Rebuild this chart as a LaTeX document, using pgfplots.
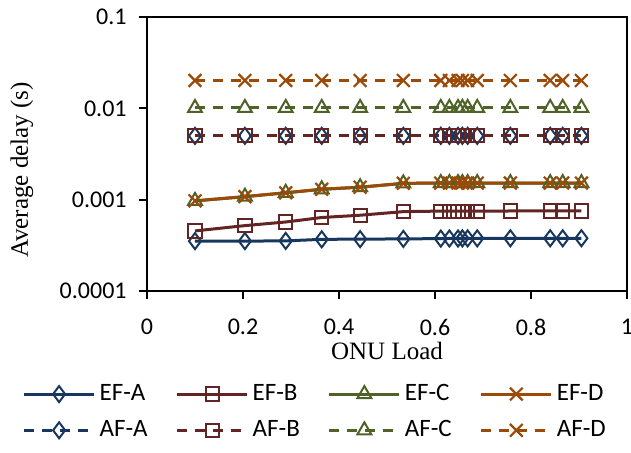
\documentclass[border=0pt]{standalone}
\usepackage{fontspec}
\setmainfont{Liberation Serif}
\newfontfamily\carlito{Carlito}
\usepackage{pgfplots}
\usepackage{pgfplotstable}
\pgfplotsset{compat=1.18}
\usetikzlibrary{calc}
\definecolor{cA}{HTML}{17375E}
\definecolor{cB}{HTML}{632523}
\definecolor{cC}{HTML}{4F6228}
\definecolor{cD}{HTML}{9C4A08}
\pgfplotstableread{
x     efa      efb      efc     efd     afa    afb    afc    afd
0.100 0.000352 0.000455 0.00097 0.00097 0.0050 0.0050 0.0101 0.0202
0.204 0.000352 0.000520 0.00108 0.00108 0.0050 0.0050 0.0101 0.0202
0.289 0.000354 0.000570 0.00119 0.00119 0.0050 0.0050 0.0101 0.0202
0.364 0.000368 0.000638 0.00130 0.00130 0.0050 0.0050 0.0101 0.0202
0.444 0.000370 0.000676 0.00137 0.00137 0.0050 0.0050 0.0101 0.0202
0.534 0.000372 0.000740 0.00151 0.00151 0.0050 0.0050 0.0101 0.0202
0.612 0.000375 0.000750 0.00152 0.00152 0.0050 0.0050 0.0101 0.0202
0.630 0.000376 0.000750 0.00152 0.00152 0.0050 0.0050 0.0101 0.0202
0.648 0.000376 0.000750 0.00152 0.00152 0.0050 0.0050 0.0101 0.0202
0.657 0.000377 0.000750 0.00152 0.00152 0.0050 0.0050 0.0101 0.0202
0.668 0.000377 0.000750 0.00152 0.00152 0.0050 0.0050 0.0101 0.0202
0.688 0.000377 0.000750 0.00152 0.00152 0.0050 0.0050 0.0101 0.0202
0.757 0.000378 0.000752 0.00152 0.00152 0.0050 0.0050 0.0101 0.0202
0.840 0.000378 0.000752 0.00152 0.00152 0.0050 0.0050 0.0101 0.0202
0.866 0.000378 0.000752 0.00152 0.00152 0.0050 0.0050 0.0101 0.0202
0.905 0.000378 0.000752 0.00152 0.00152 0.0050 0.0050 0.0101 0.0202
}\datatable
\begin{document}
\begin{tikzpicture}
\path[use as bounding box] (-73.5pt,-80.5pt) rectangle (242pt,145.5pt);
\begin{axis}[
  at={(0pt,0pt)}, anchor=south west,
  width=240pt, height=137pt, scale only axis,
  xmin=0, xmax=1, ymode=log, ymin=1e-4, ymax=0.1,
  xtick={0,0.2,0.4,0.6,0.8,1},
  xticklabels={0,0.2,0.4,0.6,0.8,1},
  ytick={1e-4,1e-3,1e-2,1e-1},
  yticklabels={0.0001,0.001,0.01,0.1},
  yminorticks=false,
  xtick pos=bottom, ytick pos=left,
  tick align=outside, major tick length=4pt,
  tick style={black, line width=0.9pt},
  axis line style={black, line width=1pt},
  yticklabel style={font=\carlito\fontsize{12}{14}\selectfont, inner sep=0pt, xshift=-6pt},
  xticklabel style={font=\carlito\fontsize{12}{14}\selectfont, inner sep=0pt, yshift=-10pt},
  xlabel={ONU Load},
  ylabel={Average delay (s)},
  xlabel style={font=\fontsize{12.5}{14}\selectfont, inner sep=0pt, at={(axis description cs:0.5,0)}, anchor=center, yshift=-30pt},
  ylabel style={font=\fontsize{12.5}{14}\selectfont, inner sep=0pt, at={($(axis description cs:0,0.5)+(-62.5pt,-8pt)$)}, anchor=center},
  legend columns=4,
  legend cell align=left,
  legend style={at={(axis description cs:-0.26,-0.325)}, anchor=north west, draw=none, inner sep=0pt,
    font=\carlito\fontsize{12.5}{14}\selectfont,
    /tikz/every even column/.append style={column sep=12pt},
    row sep=4.5pt},
  legend image code/.code={\draw[mark repeat=2,mark phase=2,#1] plot coordinates {(0pt,0pt) (17.5pt,0pt) (35pt,0pt)};},
  every axis plot/.append style={line width=1.5pt},
]
\addplot[cA, mark=diamond, mark size=4pt, mark options={solid, fill=none, line width=1pt}] table[x=x,y=efa] {\datatable};
\addlegendentry{EF-A}
\addplot[cB, mark=square, mark size=3.3pt, mark options={solid, fill=none, line width=1pt}] table[x=x,y=efb] {\datatable};
\addlegendentry{EF-B}
\addplot[cC, mark=triangle, mark size=4pt, mark options={solid, fill=none, line width=1pt}] table[x=x,y=efc] {\datatable};
\addlegendentry{EF-C}
\addplot[cD, mark=x, mark size=4.5pt, mark options={solid, fill=none, line width=1.1pt}] table[x=x,y=efd] {\datatable};
\addlegendentry{EF-D}
\addplot[cA, dash pattern=on 5pt off 4pt, mark=diamond, mark size=4pt, mark options={solid, fill=none, line width=1pt}] table[x=x,y=afa] {\datatable};
\addlegendentry{AF-A}
\addplot[cB, dash pattern=on 5pt off 4pt, mark=square, mark size=3.3pt, mark options={solid, fill=none, line width=1pt}] table[x=x,y=afb] {\datatable};
\addlegendentry{AF-B}
\addplot[cC, dash pattern=on 5pt off 4pt, mark=triangle, mark size=4pt, mark options={solid, fill=none, line width=1pt}] table[x=x,y=afc] {\datatable};
\addlegendentry{AF-C}
\addplot[cD, dash pattern=on 5pt off 4pt, mark=x, mark size=4.5pt, mark options={solid, fill=none, line width=1.1pt}] table[x=x,y=afd] {\datatable};
\addlegendentry{AF-D}
\end{axis}
\end{tikzpicture}
\end{document}
